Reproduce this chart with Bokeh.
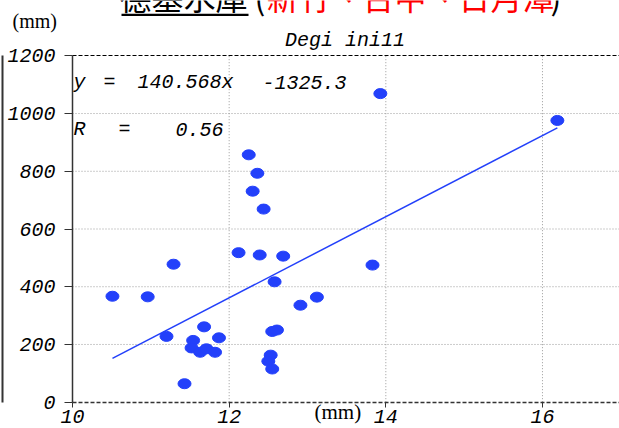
from bokeh.plotting import figure
from bokeh.models import (Range1d, LinearAxis, Label, BoxAnnotation, FixedTicker,
                          ColumnDataSource, GlobalInlineStyleSheet)
from bokeh.embed import file_html
from bokeh.resources import INLINE

# ---- data ----
rain_mm = [10.51, 10.96, 11.20, 11.29, 11.43, 11.54, 11.52, 11.68, 11.63, 11.71,
           11.82, 11.87, 12.12, 12.25, 12.30, 12.36, 12.39, 12.44, 12.53, 12.50,
           12.55, 12.58, 12.55, 12.61, 12.69, 12.91, 13.12, 13.83, 13.93, 16.19]
storage_mm = [367, 365, 228, 478, 64, 214, 188, 261, 173, 185,
              173, 223, 518, 857, 731, 793, 510, 669, 163, 142,
              115, 417, 245, 250, 506, 336, 364, 475, 1069, 976]
slope = 140.568
intercept = -1325.3
r_value = 0.56
x_ticks = [10, 12, 14, 16]
y_ticks = [0, 200, 400, 600, 800, 1000, 1200]

title_black = "德基水庫"
title_red = "新竹、台中、日月潭"
subtitle = "Degi ini11"
unit = "(mm)"

BLUE = "#2340fa"
AX = "#333333"
MONO = "Liberation Mono"
CJK = "Noto Sans CJK TC"

W, H = 619, 428
# plot-area placement in canvas pixels
PX0, PX_PER = 72.0, 78.33          # x=10 at 72 px, px per mm
PY0, PY_PER = 401.7, 346.4 / 1200  # y=0 at 401.7 px, px per mm

x_lo = x_ticks[0] - PX0 / PX_PER
x_hi = x_ticks[0] + (W - PX0) / PX_PER
y_lo = -(H - PY0) / PY_PER
y_hi = PY0 / PY_PER

p = figure(width=W, height=H, output_backend="svg", toolbar_location=None,
           x_range=Range1d(x_lo, x_hi), y_range=Range1d(y_lo, y_hi),
           x_axis_location=None, y_axis_location=None,
           min_border=0, min_border_left=0, min_border_right=0,
           min_border_top=0, min_border_bottom=0)
p.stylesheets = [GlobalInlineStyleSheet(css="html, body { margin: 0 !important; padding: 0; overflow: hidden; }")]
p.outline_line_color = None
p.background_fill_color = "white"
p.border_fill_color = "white"
p.grid.visible = False

def label_style(ax, size="20px"):
    ax.major_label_text_font = MONO
    ax.major_label_text_font_style = "italic"
    ax.major_label_text_font_size = size
    ax.major_label_text_color = "black"

# y axis (solid) at x = 10
ya = LinearAxis(fixed_location=x_ticks[0], bounds=(y_ticks[0], y_ticks[-1]),
                ticker=FixedTicker(ticks=y_ticks))
ya.axis_line_color = AX
ya.axis_line_width = 1.5
ya.major_tick_out = 8
ya.major_tick_in = 0
ya.major_tick_line_color = AX
ya.minor_tick_line_color = None
ya.major_label_standoff = 9
label_style(ya)
p.add_layout(ya, "left")

# x axis (dashed) at y = 0
xa = LinearAxis(fixed_location=y_ticks[0], bounds=(x_ticks[0], x_hi),
                ticker=FixedTicker(ticks=x_ticks))
xa.axis_line_color = AX
xa.axis_line_width = 1.5
xa.axis_line_dash = "4 2"
xa.major_tick_out = 5
xa.major_tick_in = 0
xa.major_tick_line_color = AX
xa.minor_tick_line_color = None
xa.major_label_standoff = 3
label_style(xa)
p.add_layout(xa, "below")

# top dashed frame line at y = 1200
ta = LinearAxis(fixed_location=y_ticks[-1], bounds=(x_ticks[0], x_hi),
                ticker=FixedTicker(ticks=[]), axis_line_color="black",
                axis_line_width=1.2, axis_line_dash="4 2",
                major_tick_out=0, major_tick_in=0, minor_tick_out=0, minor_tick_in=0,
                major_label_text_font_size="0px")
p.add_layout(ta, "above")

# far-left vertical rule
la = LinearAxis(fixed_location=x_lo + 1.5 / PX_PER, bounds=(y_ticks[0], y_ticks[-1]),
                ticker=FixedTicker(ticks=[]), axis_line_color=AX, axis_line_width=2,
                major_tick_out=0, major_tick_in=0, minor_tick_out=0, minor_tick_in=0,
                major_label_text_font_size="0px")
p.add_layout(la, "left")

# dotted grid inside the plot area
gx = ColumnDataSource(dict(x=x_ticks[1:], y0=[y_ticks[0]] * 3, y1=[y_ticks[-1]] * 3))
p.segment(x0="x", x1="x", y0="y0", y1="y1", source=gx,
          line_color="#9a9a9a", line_width=1, line_dash="1 2")
gy_vals = y_ticks[1:-1]
gy = ColumnDataSource(dict(y=gy_vals, x0=[x_ticks[0]] * len(gy_vals), x1=[x_hi] * len(gy_vals)))
p.segment(x0="x0", x1="x1", y0="y", y1="y", source=gy,
          line_color="#9a9a9a", line_width=1, line_dash="1 2")

# data marks
src = ColumnDataSource(dict(x=rain_mm, y=storage_mm))
fit_x = [min(rain_mm), max(rain_mm)]
fit_y = [slope * v + intercept for v in fit_x]
p.line(fit_x, fit_y, line_color=BLUE, line_width=1.5)
p.ellipse(x="x", y="y", width=13, height=10, width_units="screen", height_units="screen",
          fill_color=BLUE, line_color=BLUE, source=src)

# texts (canvas pixels, y measured from top)
def lab(text, px, py, font, size, color="black", style="normal", align="left"):
    p.add_layout(Label(x=px, y=H - py, x_units="screen", y_units="screen", text=text,
                       text_font=font, text_font_size=size, text_color=color,
                       text_font_style=style, text_align=align, text_baseline="alphabetic"))

lab(title_black, 119, -5, CJK, "32px")
lab("(", 254, -5, CJK, "32px")
lab(title_red, 266, -5, CJK, "32px", color="#ff0000")
lab(")", 550, -5, CJK, "32px")
p.add_layout(BoxAnnotation(left=121, right=248, top=H - 13.3, bottom=H - 15.5,
                           left_units="screen", right_units="screen",
                           top_units="screen", bottom_units="screen",
                           fill_color="black", fill_alpha=1, line_color=None))

lab(unit, 12, 20.5, "Liberation Serif", "20px")
lab(unit, 314, 411.5, "Liberation Serif", "21px")
lab(subtitle, 344.5, 40, MONO, "20px", style="italic", align="center")

lab("y", 73, 82, MONO, "20px", style="italic")
lab("=", 103, 82, MONO, "20px", style="italic")
lab(f"{slope}x", 137, 82, MONO, "20px", style="italic")
lab(f"{intercept}", 262, 82, MONO, "20px", style="italic")
lab("R", 73, 129, MONO, "20px", style="italic")
lab("=", 118, 129, MONO, "20px", style="italic")
lab(f"{r_value}", 175, 129, MONO, "20px", style="italic")

open("out.html", "w").write(file_html(p, INLINE))
